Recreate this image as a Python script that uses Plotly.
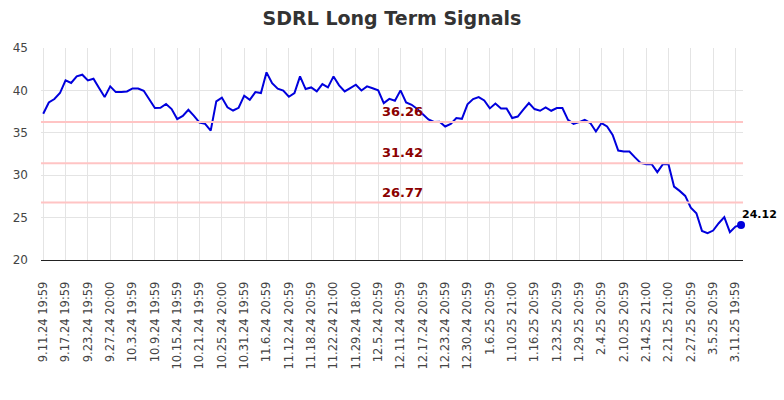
import plotly.graph_objects as go

dates = [
    "9.11.24 19:59", "9.12.24 19:59", "9.13.24 20:00", "9.16.24 19:59", "9.17.24 19:59",
    "9.18.24 19:59", "9.19.24 19:59", "9.20.24 20:00", "9.23.24 19:59", "9.24.24 19:59",
    "9.25.24 19:59", "9.26.24 19:59", "9.27.24 20:00", "9.30.24 19:59",
    "10.1.24 19:59", "10.2.24 19:59", "10.3.24 19:59", "10.4.24 20:00", "10.7.24 19:59",
    "10.8.24 19:59", "10.9.24 19:59", "10.10.24 19:59", "10.11.24 20:00", "10.14.24 19:59",
    "10.15.24 19:59", "10.16.24 19:59", "10.17.24 19:59", "10.18.24 20:00", "10.21.24 19:59",
    "10.22.24 19:59", "10.23.24 19:59", "10.24.24 19:59", "10.25.24 20:00", "10.28.24 19:59",
    "10.29.24 19:59", "10.30.24 19:59", "10.31.24 19:59",
    "11.1.24 20:00", "11.4.24 20:59", "11.5.24 20:59", "11.6.24 20:59", "11.7.24 20:59",
    "11.8.24 21:00", "11.11.24 20:59", "11.12.24 20:59", "11.13.24 20:59", "11.14.24 20:59",
    "11.15.24 21:00", "11.18.24 20:59", "11.19.24 20:59", "11.20.24 20:59", "11.21.24 20:59",
    "11.22.24 21:00", "11.25.24 20:59", "11.26.24 20:59", "11.27.24 20:59", "11.29.24 18:00",
    "12.2.24 20:59", "12.3.24 20:59", "12.4.24 20:59", "12.5.24 20:59", "12.6.24 21:00",
    "12.9.24 20:59", "12.10.24 20:59", "12.11.24 20:59", "12.12.24 20:59", "12.13.24 21:00",
    "12.16.24 20:59", "12.17.24 20:59", "12.18.24 20:59", "12.19.24 20:59", "12.20.24 21:00",
    "12.23.24 20:59", "12.24.24 18:00", "12.26.24 20:59", "12.27.24 21:00", "12.30.24 20:59",
    "12.31.24 20:59",
    "1.2.25 20:59", "1.3.25 21:00", "1.6.25 20:59", "1.7.25 20:59", "1.8.25 20:59",
    "1.9.25 20:59", "1.10.25 21:00", "1.13.25 20:59", "1.14.25 20:59", "1.15.25 20:59",
    "1.16.25 20:59", "1.17.25 21:00", "1.21.25 20:59", "1.22.25 20:59", "1.23.25 20:59",
    "1.24.25 21:00", "1.27.25 20:59", "1.28.25 20:59", "1.29.25 20:59", "1.30.25 20:59",
    "1.31.25 21:00",
    "2.3.25 20:59", "2.4.25 20:59", "2.5.25 20:59", "2.6.25 20:59", "2.7.25 21:00",
    "2.10.25 20:59", "2.11.25 20:59", "2.12.25 20:59", "2.13.25 20:59", "2.14.25 21:00",
    "2.18.25 20:59", "2.19.25 20:59", "2.20.25 20:59", "2.21.25 21:00", "2.24.25 20:59",
    "2.25.25 20:59", "2.26.25 20:59", "2.27.25 20:59", "2.28.25 21:00",
    "3.3.25 20:59", "3.4.25 20:59", "3.5.25 20:59", "3.6.25 20:59", "3.7.25 21:00",
    "3.10.25 19:59", "3.11.25 19:59", "3.12.25 19:59",
]

prices = [
    37.24, 38.58, 38.98, 39.69, 41.18, 40.87, 41.65, 41.85, 41.18, 41.38,
    40.28, 39.21, 40.47, 39.80, 39.80, 39.88, 40.23, 40.23, 39.96, 38.90,
    37.92, 37.95, 38.40, 37.80, 36.62, 37.00, 37.72, 37.00, 36.20, 36.05,
    35.25, 38.70, 39.15, 38.00, 37.63, 37.95, 39.38, 38.90, 39.80, 39.69,
    42.13, 40.85, 40.20, 39.98, 39.25, 39.69, 41.65, 40.16, 40.35, 39.88,
    40.75, 40.35, 41.65, 40.60, 39.88, 40.28, 40.67, 39.99, 40.47, 40.25,
    40.00, 38.50, 39.00, 38.78, 40.00, 38.58, 38.30, 37.80, 37.17, 36.58,
    36.28, 36.30, 35.74, 36.05, 36.74, 36.65, 38.36, 38.98, 39.21, 38.81,
    37.88, 38.46, 37.88, 37.88, 36.74, 36.92, 37.72, 38.50, 37.80, 37.60,
    37.99, 37.60, 37.92, 37.92, 36.53, 36.06, 36.26, 36.53, 36.15, 35.15,
    36.15, 35.74, 34.76, 32.91, 32.80, 32.80, 32.10, 31.45, 31.30, 31.30,
    30.36, 31.30, 31.30, 28.66, 28.15, 27.56, 26.18, 25.52, 23.43, 23.16,
    23.47, 24.34, 25.05, 23.28, 23.94, 24.12,
]

signal_levels = [36.26, 31.42, 26.77]
signal_labels = ["36.26", "31.42", "26.77"]
tick_labels = dates[::4]
title_text = "SDRL Long Term Signals"

fig = go.Figure()
fig.add_trace(go.Scatter(
    x=dates, y=prices, mode="lines",
    line=dict(color="#0000dd", width=2),
    hoverinfo="x+y", showlegend=False,
))
fig.add_trace(go.Scatter(
    x=[dates[-1]], y=[prices[-1]], mode="markers",
    marker=dict(color="#0000dd", size=8, symbol="circle"),
    cliponaxis=False, showlegend=False,
))

for lvl, lab in zip(signal_levels, signal_labels):
    fig.add_hline(y=lvl, line=dict(color="#ffc4c4", width=2))
    fig.add_annotation(
        x=dates[64], y=lvl, text=lab, showarrow=False,
        xanchor="center", yanchor="middle", xshift=2, yshift=10.5,
        font=dict(family="DejaVu Sans", size=13, color="#8b0000", weight="bold"),
    )

fig.add_annotation(
    x=dates[-1], y=prices[-1], text=f"{prices[-1]:.2f}", showarrow=False,
    xanchor="left", yanchor="middle", xshift=-1, yshift=11,
    font=dict(family="DejaVu Sans", size=11, color="#000000", weight="bold"),
)

fig.update_layout(
    width=784, height=400,
    margin=dict(l=41, r=41, t=48, b=140),
    paper_bgcolor="white", plot_bgcolor="white",
    title=dict(text=title_text, x=0.5, xanchor="center", y=0.955, yanchor="middle",
               font=dict(family="DejaVu Sans", size=19, color="#333333", weight="bold")),
    font=dict(family="DejaVu Sans", color="#444444"),
)
fig.update_xaxes(
    type="category", range=[-0.4, 125.35],
    tickmode="array", tickvals=tick_labels, ticktext=tick_labels,
    tickangle=-90, tickfont=dict(size=11.5, color="#444444"),
    ticklabelstandoff=16, automargin=False,
    showgrid=True, gridcolor="#e4e4e4", gridwidth=1,
    showline=True, linecolor="#222222", linewidth=1,
    ticks="", zeroline=False,
)
fig.update_yaxes(
    range=[20, 45], tickvals=[20, 25, 30, 35, 40, 45],
    tickfont=dict(size=12, color="#444444"),
    ticklabelstandoff=12, automargin=False,
    showgrid=True, gridcolor="#e4e4e4", gridwidth=1,
    zeroline=False, showline=False, ticks="",
)

fig.write_html("out.html", config={"displayModeBar": False},
               post_script="document.body.style.margin='0px';")
